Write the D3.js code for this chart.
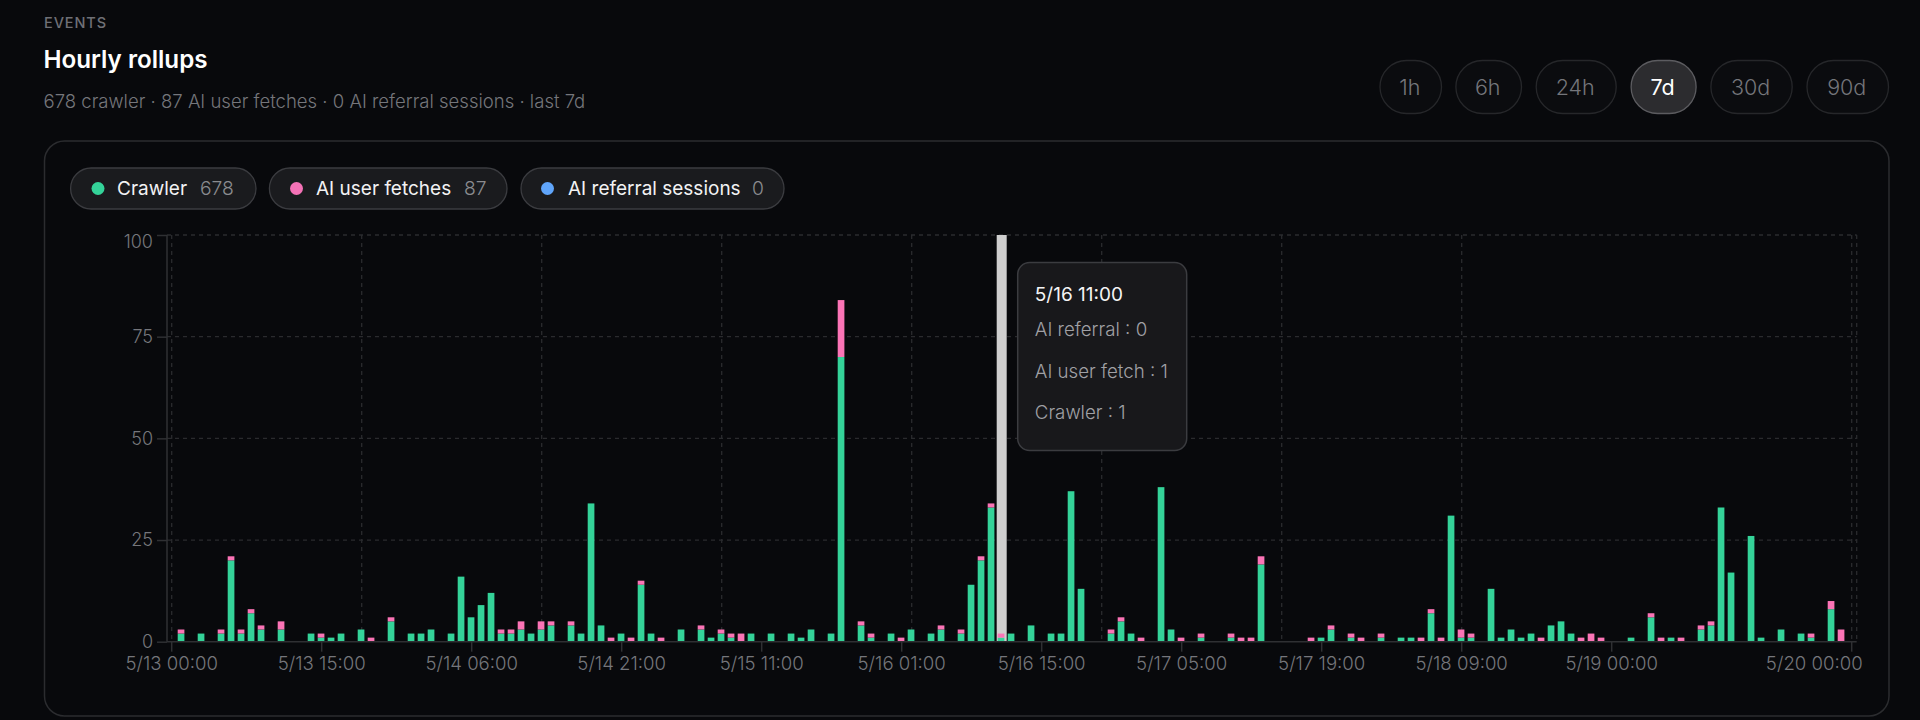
<!DOCTYPE html>
<html><head><meta charset="utf-8">
<script src="https://d3js.org/d3.v7.min.js"></script>
<style>
html,body{margin:0;padding:0;background:#08090c;overflow:hidden}
svg{display:block}
text{font-family:Inter,"Noto Sans",sans-serif}
</style></head><body><svg id="c" width="1920" height="720"></svg>
<script>
const crawlerValues = [
0,2,0,2,0,2,20,2,7,3,0,3,0,0,2,1,1,2,0,3,0,0,5,0,
2,2,3,0,2,16,6,9,12,2,2,3,2,3,4,0,4,2,34,4,0,2,0,14,
2,0,0,3,0,3,1,2,1,0,2,0,2,0,2,1,3,0,2,70,0,4,1,0,
2,0,3,0,2,3,0,2,14,20,33,1,2,0,4,0,2,2,37,13,0,0,2,5,
2,0,0,38,3,0,0,1,0,0,1,0,0,19,0,0,0,0,0,1,3,0,1,0,
0,1,0,1,1,0,7,0,31,1,1,0,13,1,3,1,2,0,4,5,2,0,0,0,
0,0,1,0,6,0,1,0,0,3,4,33,17,0,26,1,0,3,0,2,1,0,8,0,0];
const fetchValues = [
0,1,0,0,0,1,1,1,1,1,0,2,0,0,0,1,0,0,0,0,1,0,1,0,
0,0,0,0,0,0,0,0,0,1,1,2,0,2,1,0,1,0,0,0,1,0,1,1,
0,1,0,0,0,1,0,1,1,2,0,0,0,0,0,0,0,0,0,14,0,1,1,0,
0,1,0,0,0,1,0,1,0,1,1,1,0,0,0,0,0,0,0,0,0,0,1,1,
0,1,0,0,0,1,0,1,0,0,1,1,1,2,0,0,0,0,1,0,1,0,1,1,
0,1,0,0,0,1,1,1,0,2,1,0,0,0,0,0,0,1,0,0,0,1,2,1,
0,0,0,0,1,1,0,1,0,1,1,0,0,0,0,0,0,0,0,0,1,0,2,3,0];
const hours = crawlerValues.map((_, i) => i);
const categoryLabel = i => { const d = new Date(Date.UTC(2024,4,13,i)); return `${d.getUTCMonth()+1}/${d.getUTCDate()} ${String(d.getUTCHours()).padStart(2,"0")}:00`; };
const xTickHours = [0,15,30,45,59,73,87,101,115,129,144,168];
const xGridHours = [0,19,37,55,74,93,111,129,168];
const yTicks = [0,25,50,75,100];
const rangeLabels = ["1h","6h","24h","7d","30d","90d"];
const activeRange = "7d";
const legendNames = ["Crawler","AI user fetches","AI referral sessions"];
const legendTotals = [678,87,0];
const legendColors = ["#34d399","#f472b6","#60a5fa"];
const hoverHour = 83;
const tooltipRows = ["AI referral : 0","AI user fetch : 1","Crawler : 1"];

const svg = d3.select("#c");
const T = "#75767b";

// header
svg.append("text").attr("x",44).attr("y",28).attr("fill","#6f7076").attr("font-size",14.5).attr("font-weight",500).attr("letter-spacing",0.9).text("EVENTS");
svg.append("text").attr("x",43.5).attr("y",68).attr("fill","#fff").attr("font-size",24.2).attr("font-weight",600).text("Hourly rollups");
svg.append("text").attr("x",43.5).attr("y",108).attr("fill",T).attr("font-size",18.55).attr("font-weight",300).text("678 crawler · 87 AI user fetches · 0 AI referral sessions · last 7d");

// range buttons
const rx0=[1379.5,1455.4,1535.7,1630.6,1710.4,1806.5], rx1=[1442,1522,1616.7,1696.6,1792.7,1889];
const rg = svg.append("g").selectAll("g").data(rangeLabels).join("g");
rg.append("rect").attr("x",(d,i)=>rx0[i]+.5).attr("y",60.5).attr("width",(d,i)=>rx1[i]-rx0[i]-1).attr("height",53).attr("rx",26.5)
  .attr("fill",d=>d===activeRange?"#2c2c2f":"#0b0c0f").attr("stroke",d=>d===activeRange?"#5c5c60":"#26272a").attr("stroke-width",1.3);
rg.append("text").attr("x",(d,i)=>(rx0[i]+rx1[i])/2-1).attr("y",94.5).attr("text-anchor","middle").attr("font-size",21.5).attr("font-weight",d=>d===activeRange?400:300)
  .attr("fill",d=>d===activeRange?"#fff":T).text(d=>d);

// card
svg.append("rect").attr("x",44.5).attr("y",141).attr("width",1844.5).attr("height",575).attr("rx",20).attr("fill","#08090c").attr("stroke","#2b2c2f").attr("stroke-width",1.5);

// legend
const px0=[70.6,269.4,521], px1=[256,507,784], dotx=[98,296.5,547.5], tx=[117,316,568], vx=[200,464,752];
const lg = svg.append("g").selectAll("g").data(legendNames).join("g");
lg.append("rect").attr("x",(d,i)=>px0[i]).attr("y",168).attr("width",(d,i)=>px1[i]-px0[i]).attr("height",41).attr("rx",20.5).attr("fill","#1a1b1e").attr("stroke","#3b3c40").attr("stroke-width",1.3);
lg.append("circle").attr("cx",(d,i)=>dotx[i]).attr("cy",188.5).attr("r",6.5).attr("fill",(d,i)=>legendColors[i]);
lg.append("text").attr("x",(d,i)=>tx[i]).attr("y",194.8).attr("font-size",19).attr("font-weight",400).attr("fill","#f2f2f3").text(d=>d);
lg.append("text").attr("x",(d,i)=>vx[i]).attr("y",194.8).attr("font-size",19.3).attr("font-weight",300).attr("fill","#8a8b8f").text((d,i)=>legendTotals[i]);

// chart
const x = d3.scaleBand().domain(hours).range([166.7,1856.7]);
const y = d3.scaleLinear().domain([0,100]).range([641.7,235]);
const C = x.bandwidth()/2;
const gridCol="#2a2b2e";
const plot = svg.append("g");

plot.selectAll(".hg").data(yTicks.slice(1)).join("line").attr("x1",167).attr("x2",1856.7).attr("y1",d=>y(d)).attr("y2",d=>y(d)).attr("stroke",gridCol).attr("stroke-width",1.3).attr("stroke-dasharray","4 4");
plot.selectAll(".vg").data(xGridHours).join("line").attr("x1",d=>x(d)+C).attr("x2",d=>x(d)+C).attr("y1",235).attr("y2",641.7).attr("stroke",gridCol).attr("stroke-width",1.3).attr("stroke-dasharray","4 4");
plot.append("line").attr("x1",1856.7).attr("x2",1856.7).attr("y1",235).attr("y2",641.7).attr("stroke",gridCol).attr("stroke-width",1.3).attr("stroke-dasharray","4 4");

// hover band
plot.append("rect").attr("x",x(hoverHour)).attr("y",235).attr("width",x.bandwidth()).attr("height",641.7-235).attr("fill","#cfcfcf");

// stacks
const rows = hours.map(i=>({i,crawler:crawlerValues[i],fetch:fetchValues[i]}));
const series = d3.stack().keys(["crawler","fetch"])(rows);
const colorOf = {crawler:"#34d399",fetch:"#fb74b6"};
plot.selectAll(".s").data(series).join("g").attr("fill",s=>colorOf[s.key])
  .selectAll("rect").data(s=>s.filter(d=>d[1]>d[0])).join("rect")
  .attr("x",d=>x(d.data.i)+1).attr("width",x.bandwidth()-3.3)
  .attr("y",d=>y(d[1])).attr("height",d=>y(d[0])-y(d[1]));

// axes
const axCol="#2f3033";
const xAxis = d3.axisBottom(x).tickValues(xTickHours).tickSize(10).tickPadding(5).tickFormat(categoryLabel);
const gx = svg.append("g").attr("transform","translate(0,641.7)").call(xAxis);
gx.select(".domain").attr("stroke",axCol).attr("stroke-width",1.5).attr("d","M166.7,0H1856.7");
gx.selectAll(".tick line").attr("stroke",axCol).attr("stroke-width",1.5);
gx.selectAll(".tick text").attr("fill",T).attr("font-size",18.6).attr("font-weight",300).attr("font-family","Inter");
gx.selectAll(".tick text").filter(d=>d===168).attr("text-anchor","end").attr("x",11);

const yAxis = d3.axisLeft(y).tickValues(yTicks).tickSize(10).tickPadding(4);
const gy = svg.append("g").attr("transform","translate(167,0)").call(yAxis);
gy.select(".domain").attr("stroke",axCol).attr("stroke-width",1.5).attr("d","M0,235V641.7");
gy.selectAll(".tick line").attr("stroke",axCol).attr("stroke-width",1.5);
gy.selectAll(".tick text").attr("fill",T).attr("font-size",18).attr("font-weight",300).attr("font-family","Inter");
gy.selectAll(".tick text").filter(d=>d===100).attr("dy","0.7em");

// tooltip
const tt = svg.append("g");
tt.append("rect").attr("x",1017.7).attr("y",262.5).attr("width",169).attr("height",188).attr("rx",12).attr("fill","#18181b").attr("stroke","#3b3c40").attr("stroke-width",1.5);
tt.append("text").attr("x",1034.8).attr("y",300.5).attr("fill","#f4f4f5").attr("font-size",19).attr("font-weight",400).text(categoryLabel(hoverHour));
const rowY=[335.7,377.5,419.3];
tt.selectAll(".r").data(tooltipRows).join("text").attr("x",1034.8).attr("y",(d,i)=>rowY[i]).attr("fill","#a0a0a5").attr("font-size",18.7).attr("font-weight",300).text(d=>d);
</script></body></html>
